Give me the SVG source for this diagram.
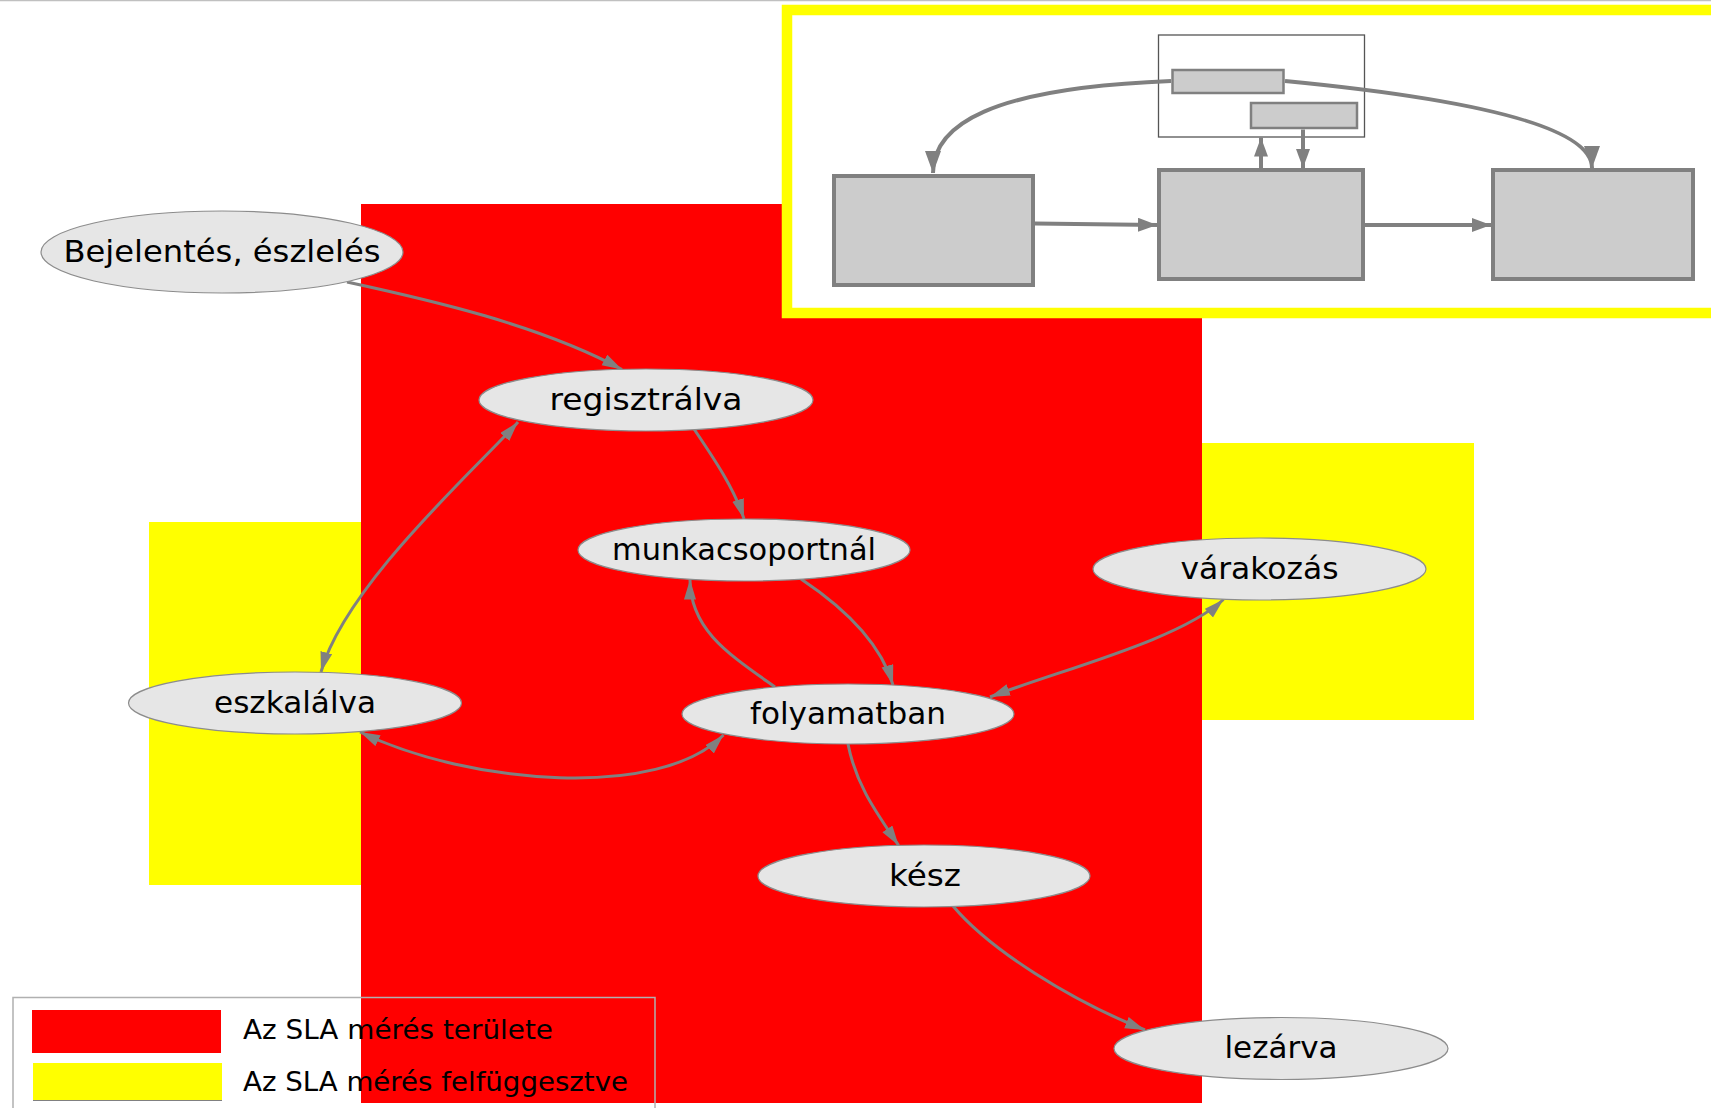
<svg xmlns="http://www.w3.org/2000/svg" width="1711" height="1108" viewBox="0 0 1711 1108">
  <style>
    .node ellipse { fill: #e6e6e6; stroke: #8c8c8c; stroke-width: 1.2; }
    .node text { font-family: "DejaVu Sans", "Liberation Sans", sans-serif; font-size: 31px; fill: #000; text-anchor: middle; }
    .edge { fill: none; stroke: #808080; stroke-width: 3; }
    .mini-box { fill: #cccccc; stroke: #808080; }
    .mini-edge { fill: none; stroke: #808080; stroke-width: 4; }
    .legend-text { font-family: "DejaVu Sans", "Liberation Sans", sans-serif; font-size: 27px; fill: #000; }
  </style>
  <defs>
    <marker id="arrow" markerUnits="userSpaceOnUse" markerWidth="22" markerHeight="14" refX="20" refY="6" orient="auto-start-reverse">
      <path d="M0,0 L20,6 L0,12 z" fill="#808080"/>
    </marker>
    <marker id="arrow-mini" markerUnits="userSpaceOnUse" markerWidth="24" markerHeight="18" refX="22" refY="8" orient="auto-start-reverse">
      <path d="M0,0 L22,8 L0,16 z" fill="#808080"/>
    </marker>
    <marker id="arrow-mini-small" markerUnits="userSpaceOnUse" markerWidth="22" markerHeight="16" refX="19" refY="7" orient="auto-start-reverse">
      <path d="M0,0 L19,7 L0,14 z" fill="#808080"/>
    </marker>
  </defs>

  <rect x="0" y="0" width="1711" height="1108" fill="#ffffff"/>
  <line x1="0" y1="0.5" x2="1711" y2="0.5" stroke="#c0c0c0" stroke-width="1.5"/>

  <!-- SLA zones -->
  <g id="zones">
    <rect x="149" y="522" width="213" height="363" fill="#ffff00"/>
    <rect x="1201" y="443" width="273" height="277" fill="#ffff00"/>
    <rect x="361" y="204" width="841" height="899" fill="#ff0000"/>
  </g>

  <!-- inset: process sketch -->
  <g id="inset">
    <rect x="787" y="10" width="1000" height="303" fill="#ffffff" stroke="#ffff00" stroke-width="10.5"/>
    <rect x="1158.5" y="35" width="206" height="102" fill="none" stroke="#555555" stroke-width="1.3"/>
    <rect class="mini-box" x="1172.5" y="70" width="111" height="23" stroke-width="2.5"/>
    <rect class="mini-box" x="1251" y="103" width="106" height="25" stroke-width="2.5"/>
    <rect class="mini-box" x="834" y="176" width="199" height="109" stroke-width="4"/>
    <rect class="mini-box" x="1159" y="170" width="204" height="109" stroke-width="4"/>
    <rect class="mini-box" x="1493" y="170" width="200" height="109" stroke-width="4"/>
    <path class="mini-edge" d="M1171,81 C990,88 933,125 933,173" marker-end="url(#arrow-mini)"/>
    <path class="mini-edge" d="M1285,81 C1430,95 1592,120 1592,168" marker-end="url(#arrow-mini)"/>
    <path class="mini-edge" d="M1035,223.5 L1157,225" marker-end="url(#arrow-mini-small)"/>
    <path class="mini-edge" d="M1365,225 L1491,225" marker-end="url(#arrow-mini-small)"/>
    <path class="mini-edge" d="M1261,168 L1261,137.5" stroke-width="3" marker-end="url(#arrow-mini-small)"/>
    <path class="mini-edge" d="M1303,129.5 L1303,168" stroke-width="3" marker-end="url(#arrow-mini-small)"/>
  </g>

  <!-- connectors -->
  <g id="connectors">
    <path class="edge" d="M347,282 C430,300 540,325 622,369.5" marker-end="url(#arrow)"/>
    <path class="edge" d="M694,429 C715,460 735,490 744,519" marker-end="url(#arrow)"/>
    <path class="edge" d="M518,422 C480,465 345,585 321,672" marker-start="url(#arrow)" marker-end="url(#arrow)"/>
    <path class="edge" d="M801,579 C840,605 880,640 893,685" marker-end="url(#arrow)"/>
    <path class="edge" d="M775,687 C730,655 690,630 690,579.5" marker-end="url(#arrow)"/>
    <path class="edge" d="M360,732 C470,785 660,800 723.5,735" marker-start="url(#arrow)" marker-end="url(#arrow)"/>
    <path class="edge" d="M990,697 C1060,670 1180,640 1223.5,599.5" marker-start="url(#arrow)" marker-end="url(#arrow)"/>
    <path class="edge" d="M848,744 C856,785 876,812 898.6,845.4" marker-end="url(#arrow)"/>
    <path class="edge" d="M953,906 C990,950 1070,1000 1145,1030" marker-end="url(#arrow)"/>
  </g>

  <!-- states -->
  <g id="node-bejelentes" class="node">
    <ellipse cx="222" cy="252" rx="181" ry="41"/>
    <text x="222" y="262" textLength="317" lengthAdjust="spacingAndGlyphs">Bejelentés, észlelés</text>
  </g>
  <g id="node-regisztralva" class="node">
    <ellipse cx="646" cy="400" rx="167" ry="31"/>
    <text x="646" y="410" textLength="193" lengthAdjust="spacingAndGlyphs">regisztrálva</text>
  </g>
  <g id="node-munkacsoportnal" class="node">
    <ellipse cx="744" cy="550" rx="166" ry="31"/>
    <text x="744" y="560" textLength="264" lengthAdjust="spacingAndGlyphs">munkacsoportnál</text>
  </g>
  <g id="node-varakozas" class="node">
    <ellipse cx="1259.5" cy="569" rx="166.5" ry="31"/>
    <text x="1259.5" y="579" textLength="158" lengthAdjust="spacingAndGlyphs">várakozás</text>
  </g>
  <g id="node-eszkalalva" class="node">
    <ellipse cx="295" cy="703" rx="166.5" ry="31"/>
    <text x="295" y="713" textLength="162" lengthAdjust="spacingAndGlyphs">eszkalálva</text>
  </g>
  <g id="node-folyamatban" class="node">
    <ellipse cx="848" cy="714" rx="166" ry="30"/>
    <text x="848" y="724" textLength="196" lengthAdjust="spacingAndGlyphs">folyamatban</text>
  </g>
  <g id="node-kesz" class="node">
    <ellipse cx="924" cy="876" rx="166" ry="31"/>
    <text x="925" y="886" textLength="72" lengthAdjust="spacingAndGlyphs">kész</text>
  </g>
  <g id="node-lezarva" class="node">
    <ellipse cx="1281" cy="1048.5" rx="167" ry="31"/>
    <text x="1281" y="1058" textLength="113" lengthAdjust="spacingAndGlyphs">lezárva</text>
  </g>

  <!-- legend -->
  <g id="legend">
    <rect x="13" y="997.5" width="642" height="120" fill="none" stroke="#b0b0b0" stroke-width="1.5"/>
    <rect x="32" y="1010" width="189" height="43" fill="#ff0000"/>
    <rect x="33" y="1063" width="189" height="37" fill="#ffff00"/>
    <line x1="33" y1="1100.5" x2="222" y2="1100.5" stroke="#808080" stroke-width="1.2"/>
    <text class="legend-text" x="243" y="1039" textLength="310" lengthAdjust="spacingAndGlyphs">Az SLA mérés területe</text>
    <text class="legend-text" x="243" y="1091" textLength="385" lengthAdjust="spacingAndGlyphs">Az SLA mérés felfüggesztve</text>
  </g>
</svg>
